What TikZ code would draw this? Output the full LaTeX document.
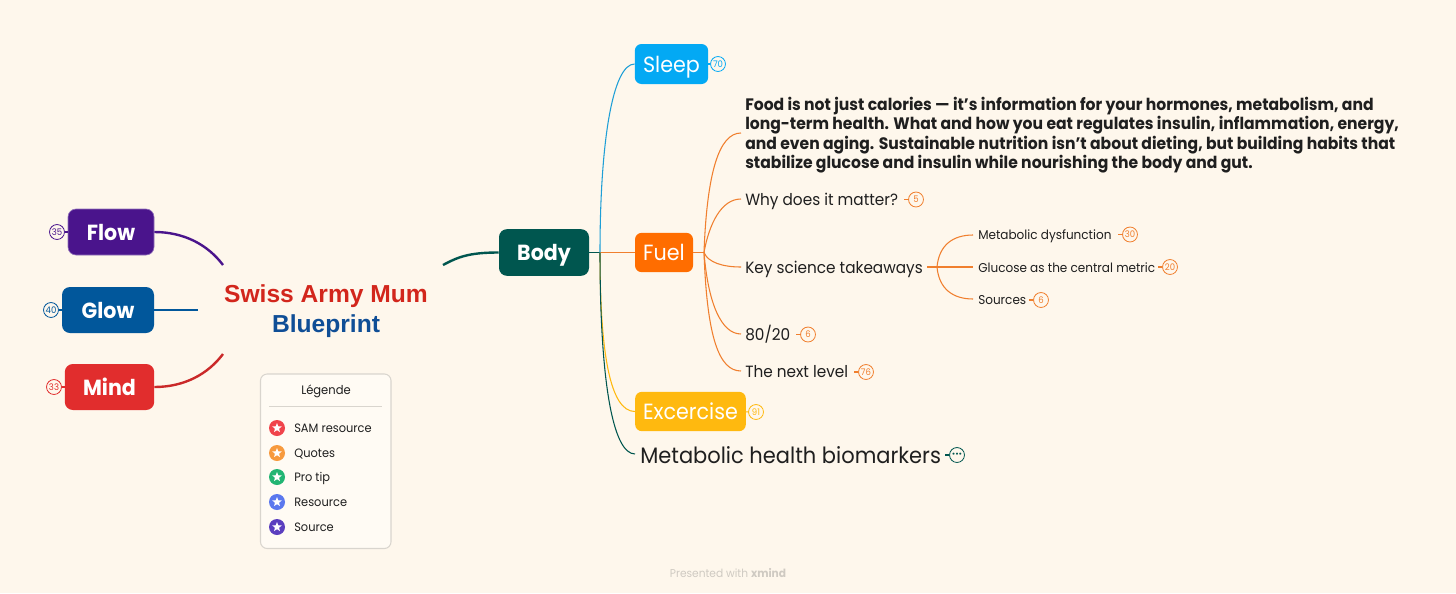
\documentclass[tikz,border=0pt]{standalone}
\usepackage{fontspec}
\usetikzlibrary{shapes.geometric}
\setmainfont[FakeStretch=0.94]{Poppins}
\newfontfamily\headfont{Liberation Sans}
\definecolor{bgc}{HTML}{FEF7EC}
\definecolor{flowc}{HTML}{4A148C}
\definecolor{glowc}{HTML}{01579B}
\definecolor{mindc}{HTML}{E12D2D}
\definecolor{bodyc}{HTML}{00564F}
\definecolor{sleepc}{HTML}{03A9F4}
\definecolor{sleepl}{HTML}{1E9FD6}
\definecolor{fuelc}{HTML}{FF6D00}
\definecolor{linec}{HTML}{F07F2E}
\definecolor{excc}{HTML}{FFB90F}
\definecolor{inkc}{HTML}{1F1F1F}
\definecolor{titlered}{HTML}{D2261C}
\definecolor{titleblue}{HTML}{0F4E96}
\definecolor{legfill}{HTML}{FFFBF4}
\definecolor{legline}{HTML}{D9D5CE}
\definecolor{footc}{HTML}{CFCAC2}
\definecolor{staraa}{HTML}{F0444B}
\definecolor{starbb}{HTML}{F79A3E}
\definecolor{starcc}{HTML}{22B573}
\definecolor{stardd}{HTML}{5B78EE}
\definecolor{staree}{HTML}{5B3FBF}
\newcommand\fsz[1]{\fontsize{#1}{#1}\selectfont}
\tikzset{
 x=0.75pt,y=-0.75pt,
 topicbox/.style={rounded corners=6pt,inner sep=0pt,text=white,text height=12pt,text depth=0pt,font=\fsz{16.4}\bfseries},
 subbox/.style={rounded corners=5pt,inner sep=0pt,text=white,text height=12pt,text depth=0pt,font=\fsz{16.5}},
 lefttext/.style={anchor=west,inner sep=0pt,text=inkc},
 midtext/.style={lefttext,font=\fsz{12.2}},
 smalltext/.style={lefttext,font=\fsz{9.6}},
 legtext/.style={anchor=base west,inner sep=0pt,text=inkc,font=\fsz{9.1}},
 badgenode/.style={circle,draw=#1,line width=0.6pt,minimum size=11.2pt,inner sep=0pt,text=#1,font=\fsz{6.8}},
 thick1/.style={line width=1.8pt},
 thin1/.style={line width=0.8pt},
 legstar/.style={star,star points=5,star point ratio=2.3,fill=white,inner sep=0pt,minimum size=7.5pt},
 legdot/.style={circle,fill=#1,inner sep=0pt,minimum size=12pt},
}
\begin{document}
\begin{tikzpicture}
\fill[bgc] (0,0) rectangle (1456,593);
\useasboundingbox (0,0) rectangle (1456,593);
% main topics
\node[topicbox,fill=flowc,draw=flowc!60!white,line width=0.5pt,minimum width=64.5pt,minimum height=34.5pt] (flow) at (111,232) {Flow};
\node[topicbox,fill=glowc,minimum width=69pt,minimum height=34.5pt] (glow) at (108,310) {Glow};
\node[topicbox,fill=mindc,minimum width=67pt,minimum height=34.5pt] (mind) at (109.5,387) {Mind};
\node[topicbox,fill=bodyc,minimum width=67.5pt,minimum height=35pt] (body) at (544,252.5) {Body};
\node[subbox,fill=sleepc,minimum width=55pt,minimum height=30pt] (sleep) at (671.5,64) {Sleep};
\node[subbox,fill=fuelc,minimum width=43.5pt,minimum height=29.5pt] (fuel) at (664,252.5) {Fuel};
\node[subbox,fill=excc,minimum width=83pt,minimum height=29.5pt] (exc) at (690.5,411.5) {Excercise};
% title
\node[font=\headfont\fsz{18.45}\bfseries,text=titlered,inner sep=0pt] (titleA) at (326,296.5) {Swiss Army Mum};
\node[font=\headfont\fsz{18.45}\bfseries,text=titleblue,inner sep=0pt] (titleB) at (326,326.5) {Blueprint};
% free ends
\coordinate (cflow) at (223,265);
\coordinate (cglow) at (198,310);
\coordinate (cmind) at (223,354);
\coordinate (cbody) at (443,265);
\coordinate (trunk) at (600,252.5);
\coordinate (forkF) at (704,252.5);
\coordinate (forkK) at (937,267);
\coordinate (tpara) at (741,133);
\coordinate (twhy) at (741,199);
\coordinate (tkey) at (741,267);
\coordinate (teighty) at (741,334);
\coordinate (tnext) at (741,371);
\coordinate (keyout) at (927,267);
\coordinate (tdys) at (973,235);
\coordinate (tglu) at (973,267);
\coordinate (tsrc) at (973,299);
\coordinate (tmet) at (635,454);
% texts
\node[lefttext,align=left,font=\fontsize{12.45}{14.65}\selectfont\bfseries] (para) at (745,135) {Food is not just calories — it’s information for your hormones, metabolism, and\\long-term health. What and how you eat regulates insulin, inflammation, energy,\\and even aging. Sustainable nutrition isn’t about dieting, but building habits that\\stabilize glucose and insulin while nourishing the body and gut.};
\node[midtext] (why) at (745,201) {Why does it matter?};
\node[midtext] (key) at (745,269) {Key science takeaways};
\node[midtext] (eighty) at (745,334) {80/20};
\node[midtext] (next) at (745,371.5) {The next level};
\node[smalltext] (dys) at (978,236) {Metabolic dysfunction};
\node[smalltext] (glu) at (978,268) {Glucose as the central metric};
\node[smalltext] (src) at (978,300) {Sources};
\node[lefttext,font=\fsz{16.75}] (met) at (640,455) {Metabolic health biomarkers};
% connectors
\draw[thick1,flowc] (flow.east) .. controls +(30,0) and +(-15,-20) .. (cflow);
\draw[thick1,glowc] (glow.east) -- (cglow);
\draw[thick1,mindc!90!black] (mind.east) .. controls +(30,0) and +(-15,20) .. (cmind);
\draw[thick1,bodyc] (cbody) .. controls +(15,-8) and +(-30,0) .. (body.west);
\draw[thin1,bodyc] (body.east) -- (trunk);
\draw[thin1,linec] (trunk) -- (fuel.west);
\draw[thin1,sleepl] (trunk) .. controls +(0,-110) and +(-22,0) .. (sleep.west);
\draw[thin1,excc] (trunk) .. controls +(0,100) and +(-25,0) .. (exc.west);
\draw[thin1,bodyc] (trunk) .. controls +(0,130) and +(-22,0) .. (tmet);
\draw[thin1,linec] (fuel.east) -- (forkF);
\draw[thin1,linec] (forkF) .. controls +(3,-80) and +(-22,0) .. (tpara);
\draw[thin1,linec] (forkF) .. controls +(5,-28) and +(-20,0) .. (twhy);
\draw[thin1,linec] (forkF) .. controls +(4,10) and +(-18,0) .. (tkey);
\draw[thin1,linec] (forkF) .. controls +(4,50) and +(-20,0) .. (teighty);
\draw[thin1,linec] (forkF) .. controls +(3,85) and +(-22,0) .. (tnext);
\draw[thin1,linec] (keyout) -- (tglu);
\draw[thin1,linec] (forkK) .. controls +(2,-22) and +(-20,0) .. (tdys);
\draw[thin1,linec] (forkK) .. controls +(2,22) and +(-20,0) .. (tsrc);
% badges
\node[badgenode=flowc] (bflow) at (57,232) {35};
\node[badgenode=glowc] (bglow) at (51,310) {40};
\node[badgenode=mindc] (bmind) at (54,387) {33};
\node[badgenode=sleepc] (bsleep) at (718,64) {70};
\node[badgenode=excc] (bexc) at (756,412) {91};
\node[badgenode=linec] (bwhy) at (916,199.5) {5};
\node[badgenode=linec] (beighty) at (808,334.5) {6};
\node[badgenode=linec] (bnext) at (866,372) {76};
\node[badgenode=linec] (bdys) at (1130,234.5) {30};
\node[badgenode=linec] (bglu) at (1170,267) {20};
\node[badgenode=linec] (bsrc) at (1041,300) {6};
\node[badgenode=bodyc,font=\fsz{8}\bfseries] (bmet) at (957,455) {·\kern0.3pt·\kern0.3pt·};
\draw[thin1,flowc] (bflow) -- (flow);
\draw[thin1,glowc] (bglow) -- (glow);
\draw[thin1,mindc] (bmind) -- (mind);
\draw[thin1,sleepc] (sleep) -- (bsleep);
\draw[thin1,excc] (exc) -- (bexc);
\draw[thin1,linec] (bwhy.west) -- +(-4,0);
\draw[thin1,linec] (beighty.west) -- +(-4,0);
\draw[thin1,linec] (bnext.west) -- +(-4,0);
\draw[thin1,linec] (bdys.west) -- +(-4,0);
\draw[thin1,linec] (bglu.west) -- +(-4,0);
\draw[thin1,linec] (bsrc.west) -- +(-4,0);
\draw[thin1,bodyc] (bmet.west) -- +(-4,0);
% legend
\draw[draw=legline,fill=legfill,line width=0.8pt,rounded corners=5pt] (260.5,374) rectangle (391,548.5);
\node[inner sep=0pt,text=inkc,font=\fsz{9.2}] (legt) at (326,391) {Légende};
\draw[legline,line width=0.6pt] (269,406.5) -- (382,406.5);
\foreach \nm/\yy/\cc/\tt in {a/428/staraa/SAM resource,b/453/starbb/Quotes,c/477/starcc/Pro tip,d/502/stardd/Resource,e/527/staree/Source}{
 \node[legdot=\cc] (dot\nm) at (277,\yy) {};
 \node[legstar] (star\nm) at (277,\yy) {};
 \node[legtext] (leg\nm) at (294,\yy+4) {\tt};
}
% footer
\node[inner sep=0pt,text=footc,font=\fsz{8.5}] (foot) at (728,573) {Presented with \textbf{xmind}};
\end{tikzpicture}
\end{document}
